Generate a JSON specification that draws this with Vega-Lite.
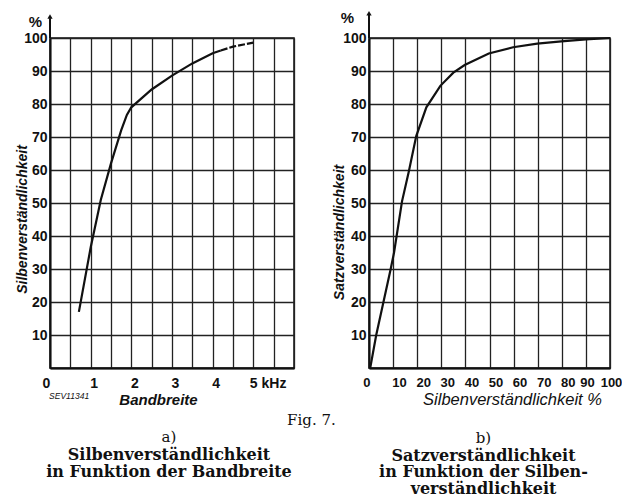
{
  "$schema": "https://vega.github.io/schema/vega-lite/v6.json",
  "background": "white",
  "padding": {"left": 14, "top": 10, "right": 0, "bottom": 0},
  "spacing": 33,
  "config": {
    "view": {"stroke": "#111", "strokeWidth": 1.5},
    "axis": {
      "domainColor": "#111", "domainWidth": 2,
      "grid": true, "gridColor": "#222", "gridWidth": 1.3, "gridOpacity": 1,
      "ticks": false,
      "labelFont": "Liberation Sans", "labelFontSize": 14, "labelColor": "#111", "labelFontWeight": "bold",
      "titleColor": "#111", "titleFont": "Liberation Sans", "titleFontStyle": "italic",
      "labelFlush": false, "labelOverlap": false
    }
  },
  "datasets": {
    "a": [
      {"f": 0.71, "v": 17}, {"f": 1.0, "v": 36.5}, {"f": 1.25, "v": 51}, {"f": 1.5, "v": 62},
      {"f": 1.75, "v": 72}, {"f": 1.89, "v": 76.7}, {"f": 2.0, "v": 79}, {"f": 2.5, "v": 84.4},
      {"f": 3.0, "v": 88.6}, {"f": 3.5, "v": 92.3}, {"f": 4.0, "v": 95.4}, {"f": 4.2, "v": 96.2},
      {"f": 4.5, "v": 97.4}, {"f": 5.0, "v": 98.6}
    ],
    "b": [
      {"f": 0.5, "v": 0}, {"f": 3, "v": 10}, {"f": 6, "v": 20}, {"f": 9, "v": 30}, {"f": 10.4, "v": 35},
      {"f": 13.7, "v": 50.5}, {"f": 16.5, "v": 59.5}, {"f": 19.6, "v": 70.3}, {"f": 23.8, "v": 79},
      {"f": 29.6, "v": 85.5}, {"f": 35, "v": 89.5}, {"f": 39.7, "v": 91.8}, {"f": 49.7, "v": 95.3},
      {"f": 59.8, "v": 97.2}, {"f": 69.8, "v": 98.3}, {"f": 79.8, "v": 99.0}, {"f": 90, "v": 99.6},
      {"f": 100, "v": 100}
    ]
  },
  "title": {
    "text": "Fig. 7.", "orient": "bottom", "anchor": "middle",
    "font": "DejaVu Serif", "fontSize": 15, "fontWeight": "normal", "color": "#111",
    "dy": -88, "dx": -7
  },
  "hconcat": [
    {
      "width": 244, "height": 330,
      "title": {
        "text": "a)", "subtitle": ["Silbenverständlichkeit", "in Funktion der Bandbreite"],
        "orient": "bottom", "anchor": "middle", "frame": "group", "offset": 23, "dx": -3,
        "font": "DejaVu Serif", "fontSize": 15, "fontWeight": "normal", "color": "#111",
        "subtitleFont": "DejaVu Serif", "subtitleFontSize": 16, "subtitleFontWeight": "bold",
        "subtitleColor": "#111", "subtitleLineHeight": 16.5, "subtitlePadding": 2
      },
      "encoding": {
        "x": {"field": "f", "type": "quantitative", "scale": {"domain": [0, 6]},
          "axis": {
            "values": [0, 0.5, 1, 1.5, 2, 2.5, 3, 3.5, 4, 4.5, 5, 5.5, 6],
            "labelExpr": "datum.value == 5 ? '5 kHz' : ((datum.value % 1 == 0 && datum.value < 5) ? format(datum.value, 'd') : '')",
            "labelAlign": {"condition": {"test": "datum.value == 5", "value": "left"}, "value": "center"},
            "labelOffset": {"condition": {"test": "datum.value == 0 || datum.value == 5", "value": -4}, "value": 3},
            "labelPadding": 8,
            "title": "Bandbreite", "titleFontSize": 15, "titleFontWeight": "bold",
            "titleX": 108, "titleY": 31, "titleAlign": "center", "titleBaseline": "middle"
          }},
        "y": {"field": "v", "type": "quantitative", "scale": {"domain": [0, 100]},
          "axis": {
            "values": [0, 10, 20, 30, 40, 50, 60, 70, 80, 90, 100],
            "labelExpr": "datum.value == 0 ? '' : datum.label",
            "labelPadding": 3,
            "title": "Silbenverständlichkeit", "titleFontSize": 14, "titleFontWeight": "bold",
            "titleX": -28, "titleY": 181, "titleAngle": 270, "titleAlign": "center", "titleBaseline": "middle"
          }}
      },
      "layer": [
        {
          "data": {"name": "a"},
          "transform": [{"filter": "datum.f <= 4.2"}],
          "mark": {"type": "line", "color": "#111", "strokeWidth": 2.2}
        },
        {
          "data": {"name": "a"},
          "transform": [{"filter": "datum.f >= 4.2"}],
          "mark": {"type": "line", "color": "#111", "strokeWidth": 2.2, "strokeDash": [7, 2]}
        },
        {
          "data": {"values": [{"f": 0, "v": 100, "v2": 106}]},
          "mark": {"type": "rule", "color": "#111", "strokeWidth": 2},
          "encoding": {"y2": {"field": "v2"}}
        },
        {
          "data": {"values": [{"f": 0, "v": 106.5}]},
          "mark": {"type": "point", "shape": "triangle-up", "filled": true, "color": "#111", "size": 28, "opacity": 1}
        },
        {
          "data": {"values": [{"f": -0.36, "v": 104.8, "t": "%"}]},
          "mark": {"type": "text", "font": "Liberation Sans", "fontSize": 15, "fontWeight": "bold", "color": "#111"},
          "encoding": {"text": {"field": "t"}}
        },
        {
          "data": {"values": [{"f": 0.47, "v": -8.5, "t": "SEV11341"}]},
          "mark": {"type": "text", "font": "Liberation Sans", "fontSize": 8.5, "fontStyle": "italic", "color": "#111"},
          "encoding": {"text": {"field": "t"}}
        }
      ]
    },
    {
      "width": 241, "height": 330,
      "title": {
        "text": "b)", "subtitle": ["Satzverständlichkeit", "in Funktion der Silben-", "verständlichkeit"],
        "orient": "bottom", "anchor": "middle", "frame": "group", "offset": 23, "dx": -6,
        "font": "DejaVu Serif", "fontSize": 15, "fontWeight": "normal", "color": "#111",
        "subtitleFont": "DejaVu Serif", "subtitleFontSize": 16, "subtitleFontWeight": "bold",
        "subtitleColor": "#111", "subtitleLineHeight": 16.5, "subtitlePadding": 2
      },
      "encoding": {
        "x": {"field": "f", "type": "quantitative", "scale": {"domain": [0, 100]},
          "axis": {
            "values": [0, 10, 20, 30, 40, 50, 60, 70, 80, 90, 100],
            "labelFontSize": 13,
            "labelAlign": {"condition": {"test": "datum.value == 0", "value": "right"}, "value": "center"},
            "labelOffset": {"condition": {"test": "datum.value == 0 || datum.value >= 90", "value": 1}, "value": 6},
            "labelPadding": 8,
            "title": "Silbenverständlichkeit %", "titleFontSize": 16.5, "titleFontWeight": "normal",
            "titleX": 143, "titleY": 31, "titleAlign": "center", "titleBaseline": "middle"
          }},
        "y": {"field": "v", "type": "quantitative", "scale": {"domain": [0, 100]},
          "axis": {
            "values": [0, 10, 20, 30, 40, 50, 60, 70, 80, 90, 100],
            "labelExpr": "datum.value == 0 ? '' : datum.label",
            "labelPadding": 3,
            "title": "Satzverständlichkeit", "titleFontSize": 14, "titleFontWeight": "bold",
            "titleX": -30, "titleY": 194, "titleAngle": 270, "titleAlign": "center", "titleBaseline": "middle"
          }}
      },
      "layer": [
        {
          "data": {"name": "b"},
          "mark": {"type": "line", "color": "#111", "strokeWidth": 2.2}
        },
        {
          "data": {"values": [{"f": 0, "v": 100, "v2": 107}]},
          "mark": {"type": "rule", "color": "#111", "strokeWidth": 2},
          "encoding": {"y2": {"field": "v2"}}
        },
        {
          "data": {"values": [{"f": 0, "v": 107.5}]},
          "mark": {"type": "point", "shape": "triangle-up", "filled": true, "color": "#111", "size": 28, "opacity": 1}
        },
        {
          "data": {"values": [{"f": -9, "v": 106, "t": "%"}]},
          "mark": {"type": "text", "font": "Liberation Sans", "fontSize": 15, "fontWeight": "bold", "color": "#111"},
          "encoding": {"text": {"field": "t"}}
        }
      ]
    }
  ]
}
